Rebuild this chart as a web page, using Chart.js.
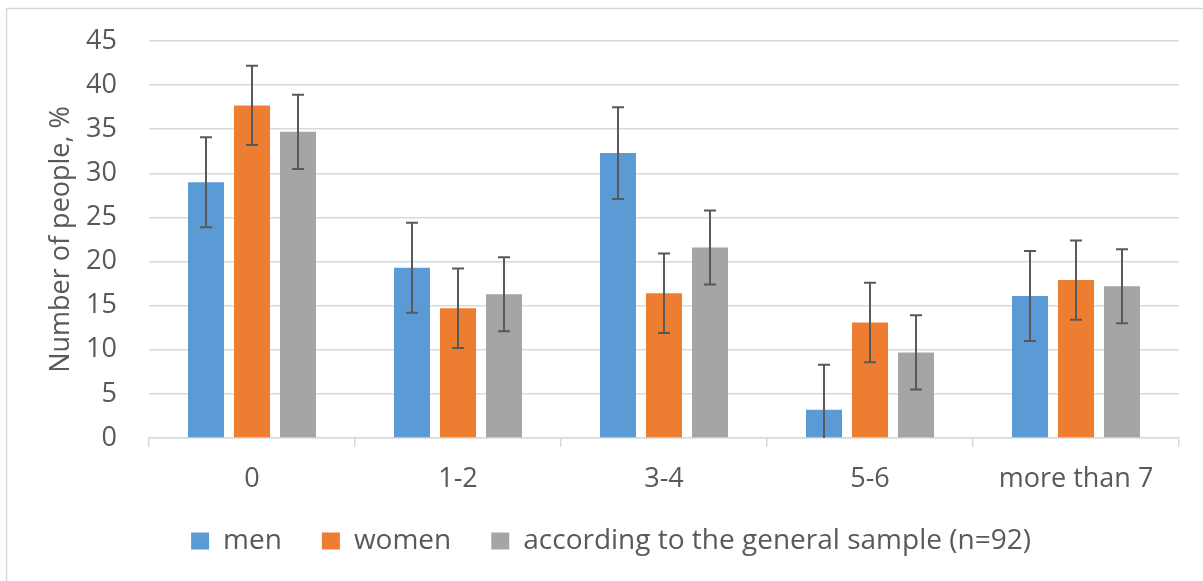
<!DOCTYPE html>
<html>
<head>
<meta charset="utf-8">
<script src="https://cdn.jsdelivr.net/npm/chart.js@4/dist/chart.umd.min.js"></script>
<style>
  html, body { margin: 0; padding: 0; background: #fff; }
  #chart { display: block; }
</style>
</head>
<body>
<canvas id="chart" width="1203" height="581"></canvas>
<script>
// data
const categories = ['0', '1-2', '3-4', '5-6', 'more than 7'];
const men = [29.0, 19.3, 32.3, 3.2, 16.1];
const women = [37.7, 14.7, 16.4, 13.1, 17.9];
const general = [34.7, 16.3, 21.6, 9.7, 17.2];
const menErr = [5.1, 5.1, 5.2, 5.1, 5.1];
const womenErr = [4.5, 4.5, 4.5, 4.5, 4.5];
const generalErr = [4.2, 4.2, 4.2, 4.2, 4.2];
const yTicks = [0, 5, 10, 15, 20, 25, 30, 35, 40, 45];

const textColor = '#595959';
const gridColor = '#d9d9d9';
const fontFamily = "'Open Sans', 'Noto Sans', sans-serif";

// frame round the chart, like the Excel chart border
const framePlugin = {
    id: 'frame',
    beforeDraw: (chart) => {
        const ctx = chart.ctx;
        ctx.save();
        ctx.fillStyle = '#fff';
        ctx.fillRect(0, 0, chart.width, chart.height);
        ctx.strokeStyle = gridColor;
        ctx.lineWidth = 1.5;
        ctx.strokeRect(6.5, 8.5, chart.width + 20, chart.height + 20);
        ctx.restore();
    }
};

// error bars drawn from the error arrays
const errorBarPlugin = {
    id: 'errorBars',
    afterDatasetsDraw: (chart) => {
        const ctx = chart.ctx;
        const yScale = chart.scales.y;
        const area = chart.chartArea;
        ctx.save();
        ctx.beginPath();
        ctx.rect(area.left, area.top - 20, area.right - area.left, area.bottom - area.top + 20);
        ctx.clip();
        ctx.strokeStyle = '#595959';
        ctx.lineWidth = 2;
        chart.data.datasets.forEach((ds, i) => {
            const meta = chart.getDatasetMeta(i);
            meta.data.forEach((bar, j) => {
                const v = ds.data[j];
                const e = ds.errors[j];
                const yTop = yScale.getPixelForValue(v + e);
                const yBot = yScale.getPixelForValue(v - e);
                const cap = 6;
                ctx.beginPath();
                ctx.moveTo(bar.x, yTop);
                ctx.lineTo(bar.x, yBot);
                ctx.moveTo(bar.x - cap, yTop);
                ctx.lineTo(bar.x + cap, yTop);
                ctx.moveTo(bar.x - cap, yBot);
                ctx.lineTo(bar.x + cap, yBot);
                ctx.stroke();
            });
        });
        ctx.restore();
    }
};

// legend: box height tuned, then lifted so the row sits where the reference has it
const legendPlace = {
    id: 'legendPlace',
    beforeInit: (chart) => {
        const origFit = chart.legend.fit;
        chart.legend.fit = function () {
            origFit.call(this);
            this.height += 1;
        };
    },
    afterLayout: (chart) => {
        const lg = chart.legend;
        lg.top -= 13;
        lg.bottom -= 13;
    }
};

const barOpts = {
    categoryPercentage: 0.67,
    barPercentage: 0.783
};

new Chart(document.getElementById('chart').getContext('2d'), {
    type: 'bar',
    data: {
        labels: categories,
        datasets: [
            Object.assign({ label: 'men', data: men, errors: menErr, backgroundColor: '#5B9BD5' }, barOpts),
            Object.assign({ label: 'women', data: women, errors: womenErr, backgroundColor: '#ED7D31' }, barOpts),
            Object.assign({ label: 'according to the general sample (n=92)', data: general, errors: generalErr, backgroundColor: '#A5A5A5' }, barOpts)
        ]
    },
    options: {
        responsive: false,
        animation: false,
        devicePixelRatio: 1,
        layout: {
            padding: { left: 43, right: 24, top: 41, bottom: 2 }
        },
        plugins: {
            tooltip: { enabled: false },
            legend: {
                position: 'bottom',
                labels: {
                    color: textColor,
                    font: { family: fontFamily, size: 28 },
                    boxWidth: 18,
                    boxHeight: 17,
                    padding: 40
                }
            }
        },
        scales: {
            x: {
                grid: {
                    offset: true,
                    drawOnChartArea: false,
                    color: gridColor,
                    lineWidth: 1.5,
                    tickLength: 9
                },
                border: { color: gridColor, width: 1.5 },
                ticks: {
                    color: textColor,
                    font: { family: fontFamily, size: 27 },
                    padding: 16,
                    maxRotation: 0
                },
                afterFit: (scale) => { scale.height = 62; }
            },
            y: {
                min: 0,
                max: 45,
                afterBuildTicks: (scale) => {
                    scale.ticks = yTicks.map(v => ({ value: v }));
                },
                grid: {
                    color: gridColor,
                    lineWidth: 1.5,
                    drawTicks: true,
                    tickLength: 32,
                    tickColor: 'rgba(0,0,0,0)'
                },
                border: { display: false },
                ticks: {
                    color: textColor,
                    font: { family: fontFamily, size: 27 },
                    padding: 0
                },
                title: {
                    display: true,
                    text: 'Number of people, %',
                    color: textColor,
                    font: { family: fontFamily, size: 27 },
                    padding: { top: 2, bottom: 0 }
                },
                afterFit: (scale) => { scale.width = 106; }
            }
        }
    },
    plugins: [framePlugin, errorBarPlugin, legendPlace]
});
</script>
</body>
</html>
